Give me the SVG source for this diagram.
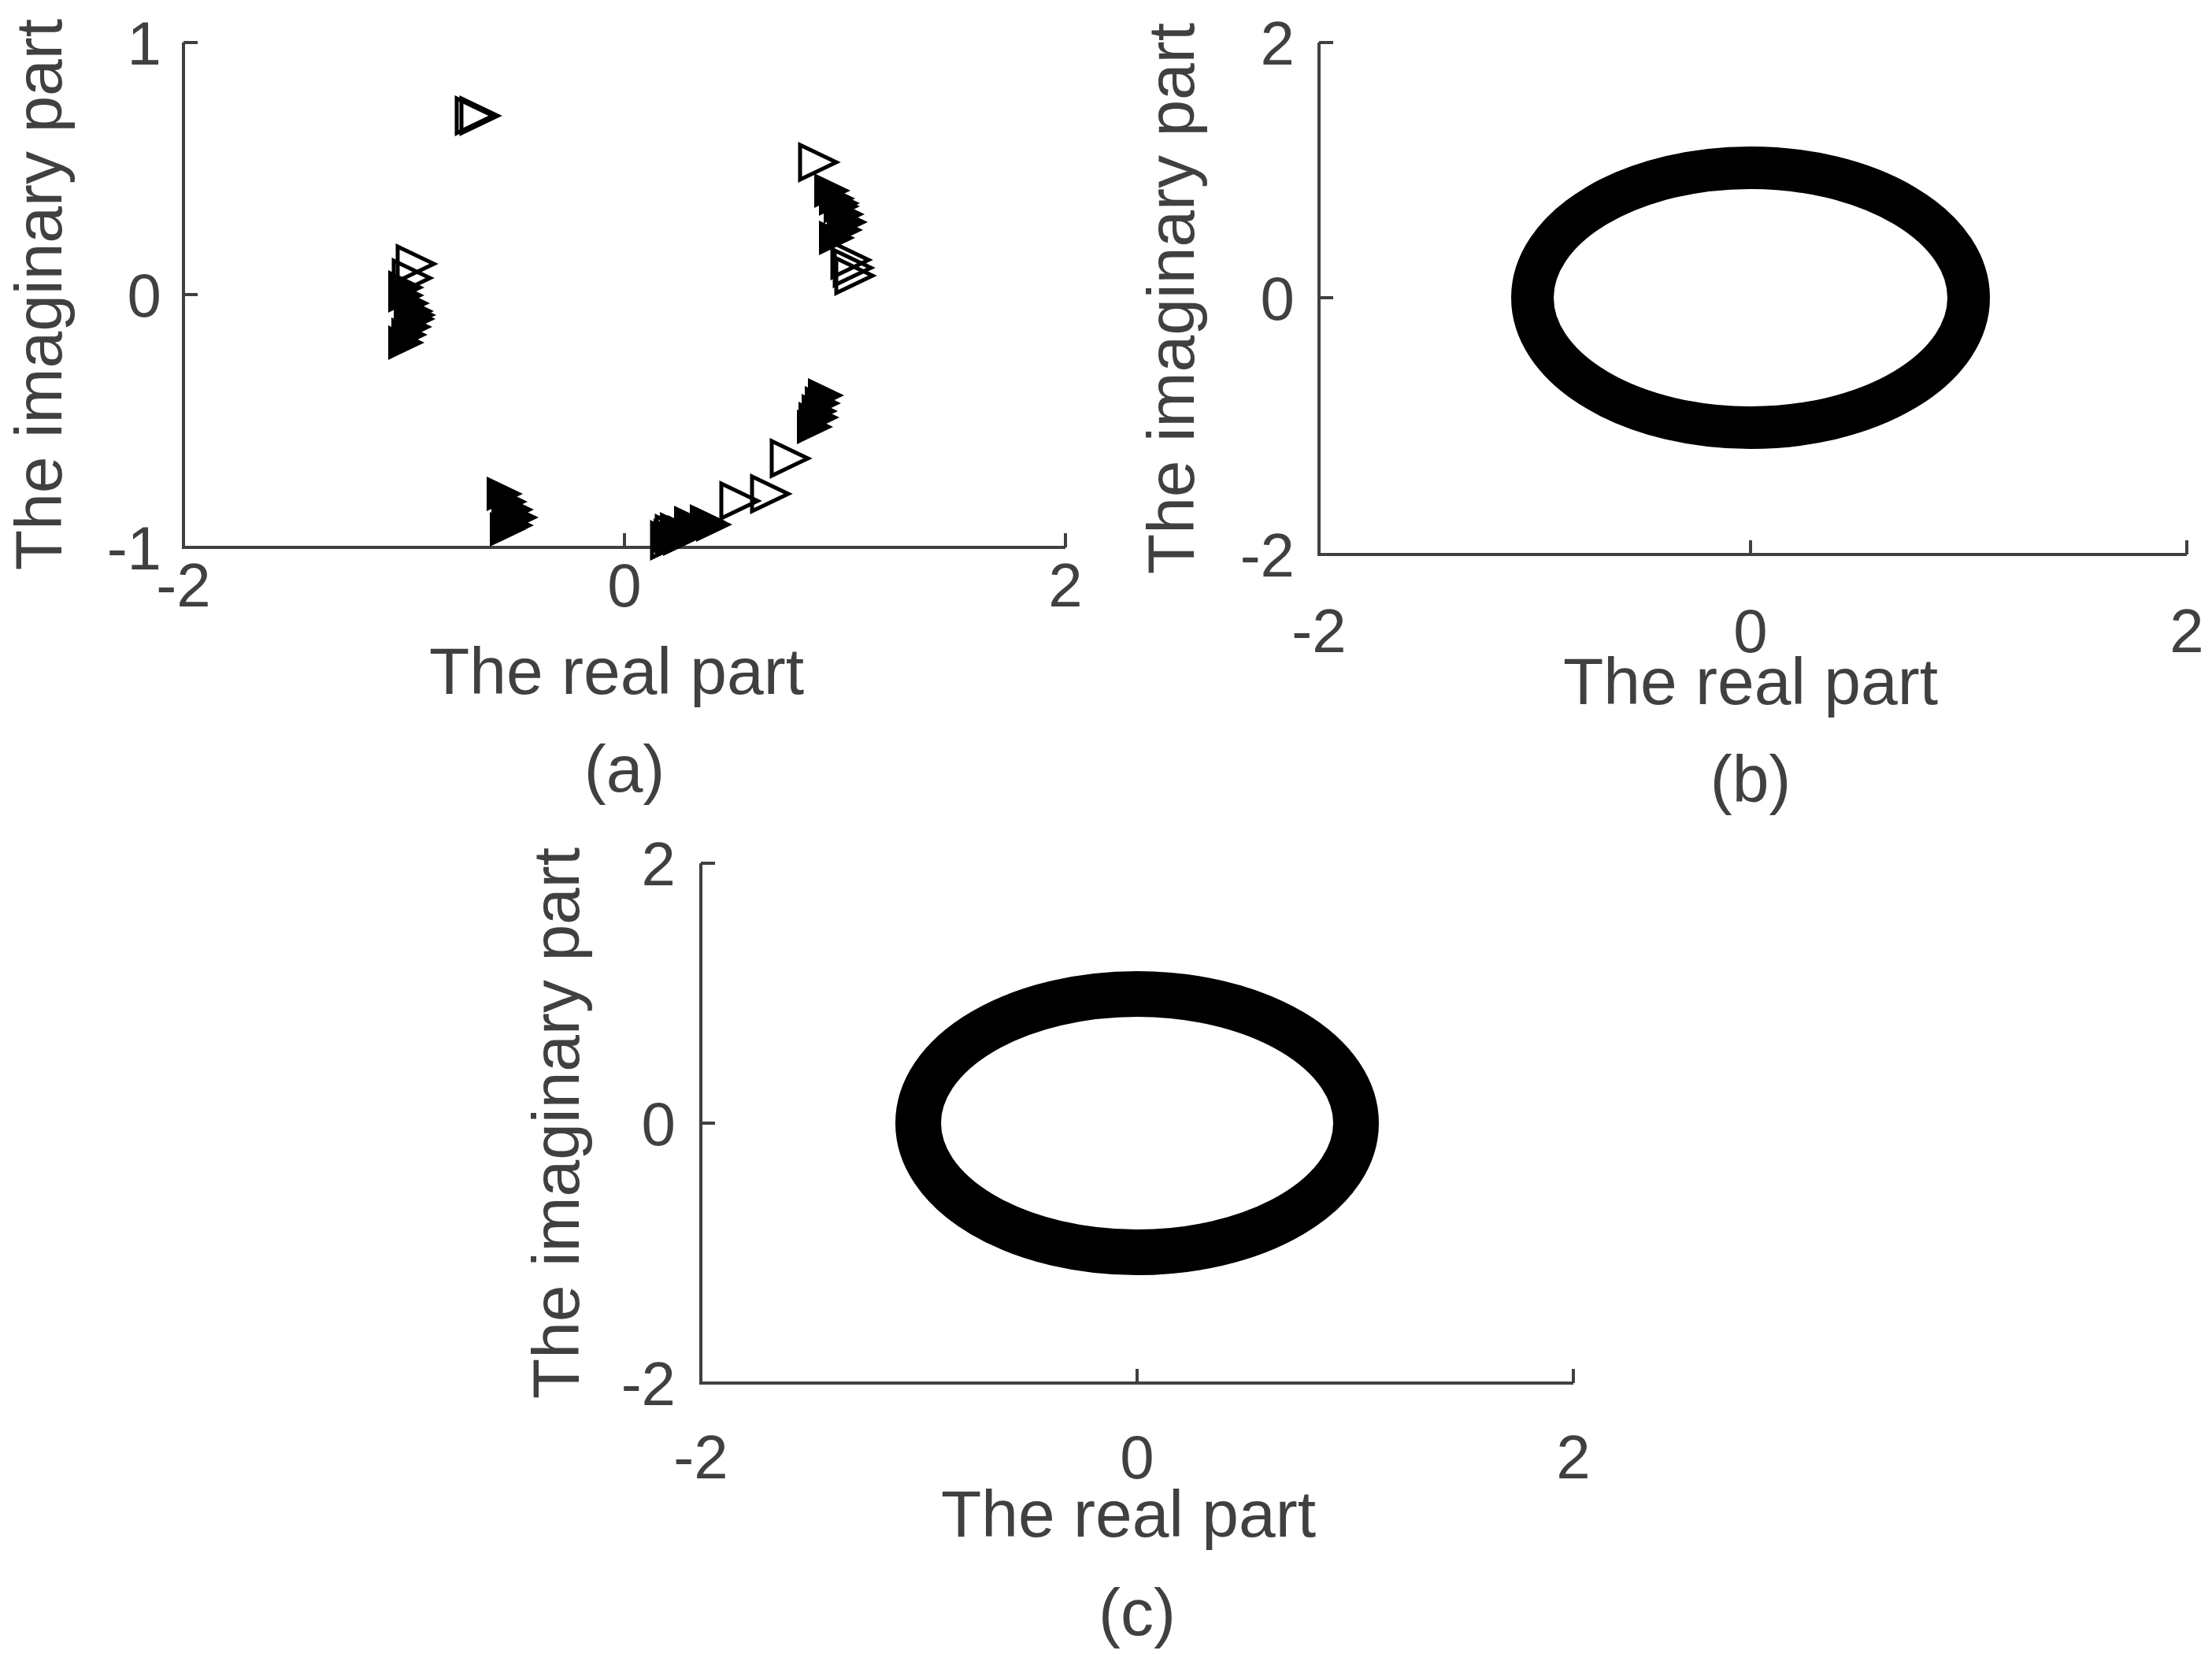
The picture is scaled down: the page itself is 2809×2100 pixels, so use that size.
<svg xmlns="http://www.w3.org/2000/svg" xmlns:xlink="http://www.w3.org/1999/xlink" width="2809" height="2100" viewBox="0 0 2809 2100">
<style>
.ax{fill:none;stroke:#404040;stroke-width:4}
.t{font-family:"Liberation Sans",Arial,sans-serif;fill:#404040}
.tk{font-size:78px}
.lb{font-size:84px}
.e{fill:none;stroke:#000}
</style>
<defs>
<path id="tri" d="M0,-22 L46,0 L0,22 Z"/>
</defs>
<rect width="2809" height="2100" fill="#fff"/>
<g id="panel-a">
<path class="ax" d="M233,54 V695 H1353 M233,54 h18 M233,374 h18 M793,695 v-18 M1353,695 v-18"/>
<g class="t tk" text-anchor="end"><text x="205" y="82">1</text><text x="205" y="402">0</text><text x="205" y="723">-1</text></g>
<g class="t tk" text-anchor="middle"><text x="233" y="770">-2</text><text x="793" y="770">0</text><text x="1353" y="770">2</text></g>
<text class="t lb" x="783" y="881" text-anchor="middle">The real part</text>
<text class="t lb" x="793" y="1005" text-anchor="middle">(a)</text>
<text class="t lb" transform="translate(78,374) rotate(-90)" text-anchor="middle">The imaginary part</text>
<g fill="#000">
<use href="#tri" x="493" y="365"/><use href="#tri" x="493" y="375"/><use href="#tri" x="500" y="385"/><use href="#tri" x="505" y="395"/><use href="#tri" x="507" y="405"/><use href="#tri" x="503" y="415"/><use href="#tri" x="497" y="425"/><use href="#tri" x="493" y="435"/><use href="#tri" x="508" y="400"/>
<use href="#tri" x="618" y="627"/><use href="#tri" x="624" y="637"/><use href="#tri" x="632" y="647"/><use href="#tri" x="638" y="657"/><use href="#tri" x="632" y="667"/><use href="#tri" x="622" y="672"/><use href="#tri" x="628" y="660"/>
<use href="#tri" x="1034" y="242"/><use href="#tri" x="1040" y="252"/><use href="#tri" x="1046" y="262"/><use href="#tri" x="1052" y="272"/><use href="#tri" x="1056" y="282"/><use href="#tri" x="1050" y="292"/><use href="#tri" x="1040" y="302"/><use href="#tri" x="1046" y="258"/>
<use href="#tri" x="1026" y="502"/><use href="#tri" x="1022" y="512"/><use href="#tri" x="1018" y="522"/><use href="#tri" x="1014" y="532"/><use href="#tri" x="1012" y="542"/><use href="#tri" x="1020" y="530"/>
<use href="#tri" x="830" y="680"/><use href="#tri" x="838" y="672"/><use href="#tri" x="848" y="676"/><use href="#tri" x="856" y="664"/><use href="#tri" x="866" y="670"/><use href="#tri" x="876" y="662"/><use href="#tri" x="884" y="666"/><use href="#tri" x="842" y="684"/>
</g>
<g fill="none" stroke="#000" stroke-width="5">
<use href="#tri" x="580" y="147"/><use href="#tri" x="586" y="147"/>
<use href="#tri" x="1016" y="206"/>
<use href="#tri" x="505" y="335"/><use href="#tri" x="500" y="353"/>
<use href="#tri" x="1057" y="330"/><use href="#tri" x="1060" y="340"/><use href="#tri" x="1062" y="350"/>
<use href="#tri" x="980" y="582"/><use href="#tri" x="955" y="627"/><use href="#tri" x="916" y="636"/>
<use href="#tri" x="828" y="686"/><use href="#tri" x="834" y="678"/>
</g>
</g>
<g id="panel-b">
<path class="ax" d="M1675,54 V704 H2777 M1675,54 h18 M1675,378 h18 M2223,704 v-18 M2777,704 v-18"/>
<g class="t tk" text-anchor="end"><text x="1644" y="82">2</text><text x="1644" y="406">0</text><text x="1644" y="732">-2</text></g>
<g class="t tk" text-anchor="middle"><text x="1675" y="828">-2</text><text x="2223" y="828">0</text><text x="2777" y="828">2</text></g>
<text class="t lb" x="2223" y="894" text-anchor="middle">The real part</text>
<text class="t lb" x="2223" y="1018" text-anchor="middle">(b)</text>
<text class="t lb" transform="translate(1516,379) rotate(-90)" text-anchor="middle">The imaginary part</text>
<ellipse class="e" cx="2223" cy="378" rx="277" ry="165" stroke-width="54"/>
</g>
<g id="panel-c">
<path class="ax" d="M890,1096 V1756 H1998 M890,1096 h18 M890,1426 h18 M1444,1756 v-18 M1998,1756 v-18"/>
<g class="t tk" text-anchor="end"><text x="858" y="1124">2</text><text x="858" y="1454">0</text><text x="858" y="1784">-2</text></g>
<g class="t tk" text-anchor="middle"><text x="890" y="1877">-2</text><text x="1444" y="1877">0</text><text x="1998" y="1877">2</text></g>
<text class="t lb" x="1433" y="1951" text-anchor="middle">The real part</text>
<text class="t lb" x="1444" y="2076" text-anchor="middle">(c)</text>
<text class="t lb" transform="translate(735,1426) rotate(-90)" text-anchor="middle">The imaginary part</text>
<ellipse class="e" cx="1444" cy="1426" rx="278" ry="164" stroke-width="58"/>
</g>
</svg>
